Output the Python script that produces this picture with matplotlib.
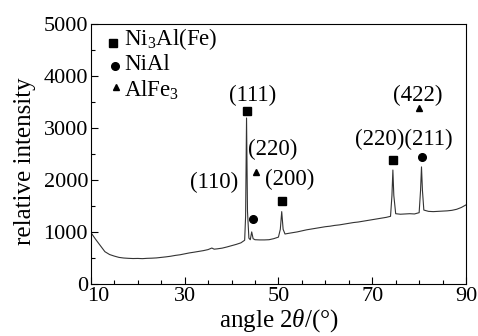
import matplotlib
matplotlib.use('Agg')
import matplotlib.pyplot as plt
import matplotlib.transforms as mtransforms

plt.rcParams['font.family'] = ['Liberation Serif', 'DejaVu Serif']
plt.rcParams['mathtext.fontset'] = 'custom'
plt.rcParams['mathtext.rm'] = 'Liberation Serif'
plt.rcParams['mathtext.it'] = 'Liberation Serif:italic'

# XRD 曲线
angle = [10, 11, 12, 13, 14, 15, 16, 17, 18, 19, 20, 21, 22, 23, 24, 25, 26, 27, 28, 29,
         30, 31, 32, 33, 34, 35, 35.8, 36.3, 37, 38, 39, 40, 41, 42, 42.8, 43.0, 43.2, 43.4,
         43.7, 44.0, 44.3, 44.6, 45, 46, 47, 48, 49, 50, 50.4, 50.7, 51.0, 51.4, 52, 53, 54,
         55, 56, 57, 58, 59, 60, 61, 62, 63, 64, 65, 66, 67, 68, 69, 70, 71, 72, 73, 73.9,
         74.2, 74.4, 74.6, 75.0, 76, 77, 78, 79, 80.0, 80.3, 80.5, 80.7, 81.0, 82, 83, 84,
         85, 86, 87, 88, 89, 90]
intensity = [990, 860, 740, 620, 565, 535, 510, 498, 492, 488, 490, 486, 492, 495, 500, 510,
             520, 532, 548, 560, 578, 596, 610, 625, 640, 660, 690, 668, 675, 688, 710, 735,
             760, 790, 840, 1300, 3190, 1400, 880, 850, 1000, 870, 850, 846, 846, 850, 870,
             900, 1050, 1390, 1050, 960, 970, 985, 1000, 1020, 1040, 1055, 1070, 1085, 1100,
             1110, 1125, 1135, 1150, 1165, 1180, 1190, 1205, 1220, 1235, 1250, 1265, 1280,
             1300, 1700, 2190, 1700, 1350, 1340, 1345, 1350, 1345, 1370, 1800, 2250, 1800,
             1420, 1395, 1390, 1395, 1400, 1405, 1415, 1435, 1470, 1520]

# 峰的标记
ni3al_x = [43.4, 50.7, 74.5]
ni3al_y = [3320, 1600, 2380]
nial_x = [44.6, 80.6]
nial_y = [1250, 2440]
alfe3_x = [45.2, 80.0]
alfe3_y = [2150, 3380]

# 晶面标签
hkl_text = ['(111)', '(220)', '(110)', '(200)', '(220)(211)', '(422)']
hkl_x = [44.6, 48.8, 36.3, 52.4, 76.8, 79.8]
hkl_y = [3630, 2580, 1960, 2000, 2770, 3630]

fig = plt.figure(figsize=(4.78, 3.36), dpi=100)
ax = fig.add_axes([0.19, 0.155, 0.785, 0.774])

ax.plot(angle, intensity, color='#333333', lw=0.8)
ax.plot(ni3al_x, ni3al_y, 's', color='black', ms=5.5, ls='none')
ax.plot(nial_x, nial_y, 'o', color='black', ms=5.5, ls='none')
ax.plot(alfe3_x, alfe3_y, '^', color='black', ms=5, ls='none')

for t, x, y in zip(hkl_text, hkl_x, hkl_y):
    ax.text(x, y, t, fontsize=16.5, ha='center', va='center')

# 图例 (手动)
ax.plot([0.059], [0.927], 's', color='black', ms=5.5, transform=ax.transAxes, clip_on=False)
ax.plot([0.064], [0.838], 'o', color='black', ms=5.5, transform=ax.transAxes, clip_on=False)
ax.plot([0.067], [0.757], '^', color='black', ms=5, transform=ax.transAxes, clip_on=False)
ax.text(0.088, 0.94, 'Ni$_3$Al(Fe)', fontsize=16.5, transform=ax.transAxes, va='center')
ax.text(0.088, 0.845, 'NiAl', fontsize=16.5, transform=ax.transAxes, va='center')
ax.text(0.088, 0.745, 'AlFe$_3$', fontsize=16.5, transform=ax.transAxes, va='center')

ax.set_xlim(10, 90)
ax.set_ylim(0, 5000)
ax.set_xticks([10, 30, 50, 70, 90])
ax.set_xticks(range(10, 91, 5), minor=True)
ax.set_yticks([0, 1000, 2000, 3000, 4000, 5000])
ax.set_yticks(range(0, 5001, 500), minor=True)
ax.tick_params(which='both', direction='in', labelsize=16, width=0.8)
ax.tick_params(which='major', length=5, pad=2)
ax.tick_params(which='minor', length=3)
for s in ax.spines.values():
    s.set_linewidth(0.8)

# "10" 右移, 避开 "0"
xlabs = ax.get_xticklabels()
xlabs[0].set_transform(xlabs[0].get_transform() +
                       mtransforms.ScaledTranslation(7 / 100, 0, fig.dpi_scale_trans))

ax.set_xlabel('angle 2$\\mathit{\\theta}$/(°)', fontsize=18, labelpad=1)
ax.set_ylabel('relative intensity', fontsize=18)
ax.yaxis.set_label_coords(-0.147, 0.473)

fig.savefig('out.png', dpi=100)
